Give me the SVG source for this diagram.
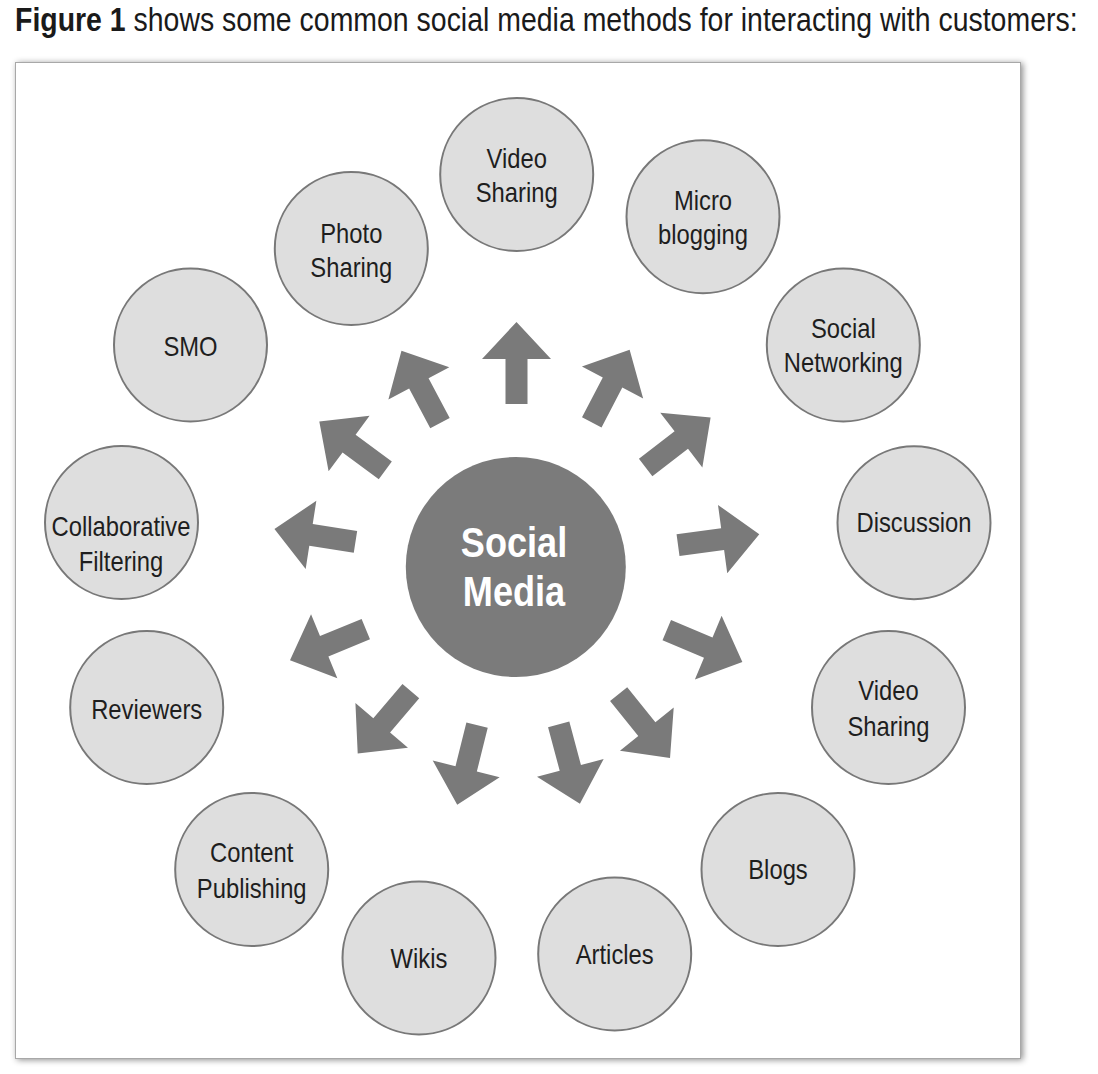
<svg xmlns="http://www.w3.org/2000/svg" xmlns:xlink="http://www.w3.org/1999/xlink" width="1098" height="1074" viewBox="0 0 1098 1074">
  <defs>
    <filter id="shadow" x="-5%" y="-5%" width="110%" height="110%">
      <feGaussianBlur in="SourceAlpha" stdDeviation="3"/>
      <feOffset dx="2" dy="1" result="b"/>
      <feFlood flood-color="#000" flood-opacity="0.45"/>
      <feComposite in2="b" operator="in"/>
      <feMerge><feMergeNode/><feMergeNode in="SourceGraphic"/></feMerge>
    </filter>
    <polygon id="arrow" points="-11,-163 -11,-208 -34.5,-208 0,-245 34.5,-208 11,-208 11,-163"/>
  </defs>
  <style>
    .title { font-family: "Liberation Sans", Arial, sans-serif; font-size: 34px; fill: #1a1a1a; }
    .title .b { font-weight: bold; }
    .node circle { fill: #dedede; stroke: #787878; stroke-width: 2; }
    .node text { font-family: "Liberation Sans", Arial, sans-serif; font-size: 28.5px; fill: #1e1e1e; text-anchor: middle; }
    .hub circle { fill: #7b7b7b; }
    .hub text { font-family: "Liberation Sans", Arial, sans-serif; font-size: 42px; font-weight: bold; fill: #ffffff; text-anchor: middle; }
    .connectors use { fill: #7a7a7a; }
  </style>

  <rect width="1098" height="1074" fill="#ffffff"/>

  <text class="title" transform="translate(15 0) scale(0.837 1)" x="0" y="31.5"><tspan class="b">Figure 1</tspan> shows some common social media methods for interacting with customers:</text>

  <rect x="15.5" y="62.5" width="1005" height="996" fill="#ffffff" stroke="#a8a8a8" stroke-width="1" filter="url(#shadow)"/>

  <g id="connectors" class="connectors">
    <use xlink:href="#arrow" transform="translate(516.5 567) rotate(0)"/>
    <use xlink:href="#arrow" transform="translate(516.5 567) rotate(27.5)"/>
    <use xlink:href="#arrow" transform="translate(516.5 567) rotate(52.4)"/>
    <use xlink:href="#arrow" transform="translate(516.5 567) rotate(82.3)"/>
    <use xlink:href="#arrow" transform="translate(516.5 567) rotate(112.8)"/>
    <use xlink:href="#arrow" transform="translate(516.5 567) rotate(141.2)"/>
    <use xlink:href="#arrow" transform="translate(516.5 567) rotate(165)"/>
    <use xlink:href="#arrow" transform="translate(516.5 567) rotate(-166)"/>
    <use xlink:href="#arrow" transform="translate(516.5 567) rotate(-139.6)"/>
    <use xlink:href="#arrow" transform="translate(516.5 567) rotate(-112.4)"/>
    <use xlink:href="#arrow" transform="translate(516.5 567) rotate(-81.1)"/>
    <use xlink:href="#arrow" transform="translate(516.5 567) rotate(-53.6)"/>
    <use xlink:href="#arrow" transform="translate(516.5 567) rotate(-28)"/>
  </g>

  <g id="hub" class="hub">
    <circle cx="515.8" cy="567" r="110"/>
    <text transform="translate(514 0) scale(0.86 1)" x="0" y="557.5">Social</text>
    <text transform="translate(514 0) scale(0.86 1)" x="0" y="606">Media</text>
  </g>

  <g id="node-video-top" class="node">
    <circle cx="516.7" cy="174.5" r="76.5"/>
    <text transform="translate(516.7 0) scale(0.835 1)" x="0" y="168.5">Video</text>
    <text transform="translate(516.7 0) scale(0.835 1)" x="0" y="202.5">Sharing</text>
  </g>
  <g id="node-microblogging" class="node">
    <circle cx="703" cy="216.8" r="76.5"/>
    <text transform="translate(703 0) scale(0.835 1)" x="0" y="210">Micro</text>
    <text transform="translate(703 0) scale(0.835 1)" x="0" y="244.3">blogging</text>
  </g>
  <g id="node-photo" class="node">
    <circle cx="351.3" cy="248.5" r="76.5"/>
    <text transform="translate(351.3 0) scale(0.835 1)" x="0" y="242.7">Photo</text>
    <text transform="translate(351.3 0) scale(0.835 1)" x="0" y="276.7">Sharing</text>
  </g>
  <g id="node-smo" class="node">
    <circle cx="190.5" cy="345" r="76.5"/>
    <text transform="translate(190.5 0) scale(0.835 1)" x="0" y="356">SMO</text>
  </g>
  <g id="node-social-networking" class="node">
    <circle cx="843.3" cy="345" r="76.5"/>
    <text transform="translate(843.3 0) scale(0.835 1)" x="0" y="337.7">Social</text>
    <text transform="translate(843.3 0) scale(0.835 1)" x="0" y="372.3">Networking</text>
  </g>
  <g id="node-collaborative" class="node">
    <circle cx="121.5" cy="522.5" r="76.5"/>
    <text transform="translate(121 0) scale(0.835 1)" x="0" y="535.7">Collaborative</text>
    <text transform="translate(121 0) scale(0.835 1)" x="0" y="571">Filtering</text>
  </g>
  <g id="node-discussion" class="node">
    <circle cx="914" cy="522.7" r="76.5"/>
    <text transform="translate(914 0) scale(0.835 1)" x="0" y="532.3">Discussion</text>
  </g>
  <g id="node-reviewers" class="node">
    <circle cx="146.7" cy="707.5" r="76.5"/>
    <text transform="translate(146.7 0) scale(0.835 1)" x="0" y="719.3">Reviewers</text>
  </g>
  <g id="node-video-right" class="node">
    <circle cx="888.5" cy="707.5" r="76.5"/>
    <text transform="translate(888.5 0) scale(0.835 1)" x="0" y="700">Video</text>
    <text transform="translate(888.5 0) scale(0.835 1)" x="0" y="735.7">Sharing</text>
  </g>
  <g id="node-content" class="node">
    <circle cx="251.7" cy="869.5" r="76.5"/>
    <text transform="translate(251.7 0) scale(0.835 1)" x="0" y="862.3">Content</text>
    <text transform="translate(251.7 0) scale(0.835 1)" x="0" y="897.7">Publishing</text>
  </g>
  <g id="node-blogs" class="node">
    <circle cx="778" cy="869.5" r="76.5"/>
    <text transform="translate(778 0) scale(0.835 1)" x="0" y="879">Blogs</text>
  </g>
  <g id="node-wikis" class="node">
    <circle cx="419" cy="958" r="76.5"/>
    <text transform="translate(419 0) scale(0.835 1)" x="0" y="968.3">Wikis</text>
  </g>
  <g id="node-articles" class="node">
    <circle cx="614.7" cy="954" r="76.5"/>
    <text transform="translate(614.7 0) scale(0.835 1)" x="0" y="964">Articles</text>
  </g>
</svg>
